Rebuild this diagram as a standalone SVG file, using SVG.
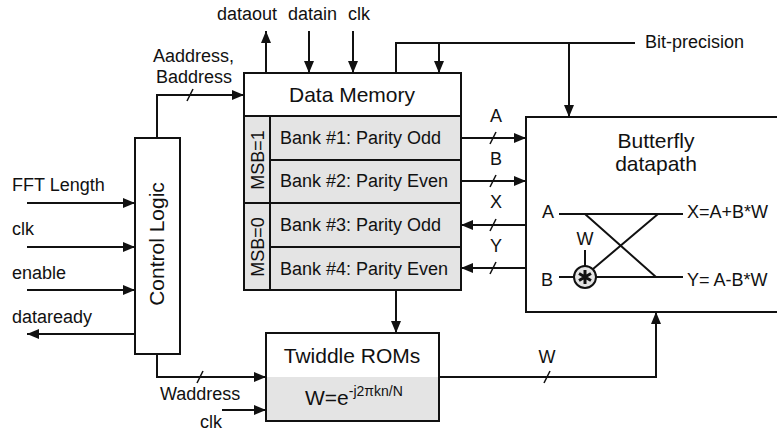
<svg xmlns="http://www.w3.org/2000/svg" width="777" height="432" viewBox="0 0 777 432">
<style>
text{font-family:"Liberation Sans",Arial,sans-serif;fill:#111;font-size:18px}
.t{font-size:21px}
.box{fill:#fff;stroke:#111;stroke-width:2}
.gray{fill:#e4e4e4;stroke:none}
.ln{fill:none;stroke:#111;stroke-width:2}
.w{fill:none;stroke:#111;stroke-width:2;marker-end:url(#ah)}
.sl{stroke:#111;stroke-width:1.6}
</style>
<defs>
<marker id="ah" viewBox="0 0 12 10" refX="12" refY="5" markerWidth="12" markerHeight="10" markerUnits="userSpaceOnUse" orient="auto">
<path d="M0,0 L12,5 L0,10 z" fill="#111"/>
</marker>
</defs>
<rect width="777" height="432" fill="#fff"/>

<g id="control-logic">
<rect class="box" x="135" y="138" width="45" height="216"/>
<text class="t" transform="translate(164,244) rotate(-90)" text-anchor="middle">Control Logic</text>
</g>

<g id="data-memory">
<rect class="box" x="244" y="73" width="217" height="217"/>
<rect class="gray" x="245" y="117" width="215" height="172"/>
<path class="ln" d="M244,116 H461 M270,116 V290 M270,160 H461 M244,203 H461 M270,247 H461"/>
<rect class="box" x="244" y="73" width="217" height="217" fill="none" style="fill:none"/>
<text class="t" x="352" y="102" text-anchor="middle">Data Memory</text>
<text x="280" y="144">Bank #1: Parity Odd</text>
<text x="280" y="187">Bank #2: Parity Even</text>
<text x="280" y="231">Bank #3: Parity Odd</text>
<text x="280" y="275">Bank #4: Parity Even</text>
<text transform="translate(263.5,160) rotate(-90)" text-anchor="middle">MSB=1</text>
<text transform="translate(263.5,247) rotate(-90)" text-anchor="middle">MSB=0</text>
</g>

<g id="twiddle-roms">
<rect class="box" x="266" y="333" width="173" height="88"/>
<rect class="gray" x="267" y="377" width="171" height="43"/>
<text class="t" x="352" y="363" text-anchor="middle">Twiddle ROMs</text>
<text class="t" x="305" y="405">W=e<tspan dy="-9" font-size="14">-j2πkn/N</tspan></text>
</g>

<g id="butterfly">
<rect class="box" x="526" y="117" width="262" height="195"/>
<text class="t" x="656" y="148" text-anchor="middle">Butterfly</text>
<text class="t" x="656" y="171" text-anchor="middle">datapath</text>
<path class="ln" d="M559,214 H683 M559,277 H574 M596,277 H683 M585,214 L656,277 M658,214 L593,269 M585,250 V266"/>
<circle cx="585" cy="277" r="11" fill="#e4e4e4" stroke="#111" stroke-width="2"/>
<path d="M585,270 V284 M579,273.5 L591,280.5 M579,280.5 L591,273.5" stroke="#111" stroke-width="3" fill="none"/>
<text x="542" y="218">A</text>
<text x="541" y="286">B</text>
<text x="585" y="245" text-anchor="middle">W</text>
<text x="687" y="218">X=A+B*W</text>
<text x="687" y="286">Y= A-B*W</text>
</g>

<g id="connectors">
<path class="w" d="M157,138 V95 H244"/>
<line class="sl" x1="187" y1="101" x2="193" y2="89"/>
<path class="w" d="M157,354 V377 H266"/>
<line class="sl" x1="197" y1="383" x2="203" y2="371"/>
<path class="w" d="M222,410 H266"/>
<path class="w" d="M27,203 H135"/>
<path class="w" d="M27,247 H135"/>
<path class="w" d="M27,290 H135"/>
<path class="w" d="M135,334 H27"/>
<path class="w" d="M266,73 V31"/>
<path class="w" d="M309,31 V73"/>
<path class="w" d="M353,31 V73"/>
<path class="ln" d="M396,73 V43 H635"/>
<path class="w" d="M439,43 V73"/>
<path class="w" d="M569,43 V117"/>
<path class="w" d="M396,290 V333"/>
<path class="w" d="M461,138 H526"/>
<path class="w" d="M461,181 H526"/>
<path class="w" d="M526,225 H461"/>
<path class="w" d="M526,268 H461"/>
<line class="sl" x1="490" y1="144" x2="496" y2="132"/>
<line class="sl" x1="490" y1="187" x2="496" y2="175"/>
<line class="sl" x1="490" y1="231" x2="496" y2="219"/>
<line class="sl" x1="490" y1="274" x2="496" y2="262"/>
<path class="w" d="M439,377 H656 V312"/>
<line class="sl" x1="544" y1="383" x2="550" y2="371"/>
</g>

<g id="labels">
<text x="217" y="20">dataout</text>
<text x="288" y="20">datain</text>
<text x="348" y="20">clk</text>
<text x="645" y="48">Bit-precision</text>
<text x="153" y="62">Aaddress,</text>
<text x="156" y="83">Baddress</text>
<text x="12" y="191">FFT Length</text>
<text x="12" y="235">clk</text>
<text x="12" y="279">enable</text>
<text x="12" y="323">dataready</text>
<text x="160" y="400">Waddress</text>
<text x="200" y="428">clk</text>
<text x="496" y="122" text-anchor="middle">A</text>
<text x="496" y="165" text-anchor="middle">B</text>
<text x="496" y="208" text-anchor="middle">X</text>
<text x="496" y="252" text-anchor="middle">Y</text>
<text x="547" y="363" text-anchor="middle">W</text>
</g>
</svg>
